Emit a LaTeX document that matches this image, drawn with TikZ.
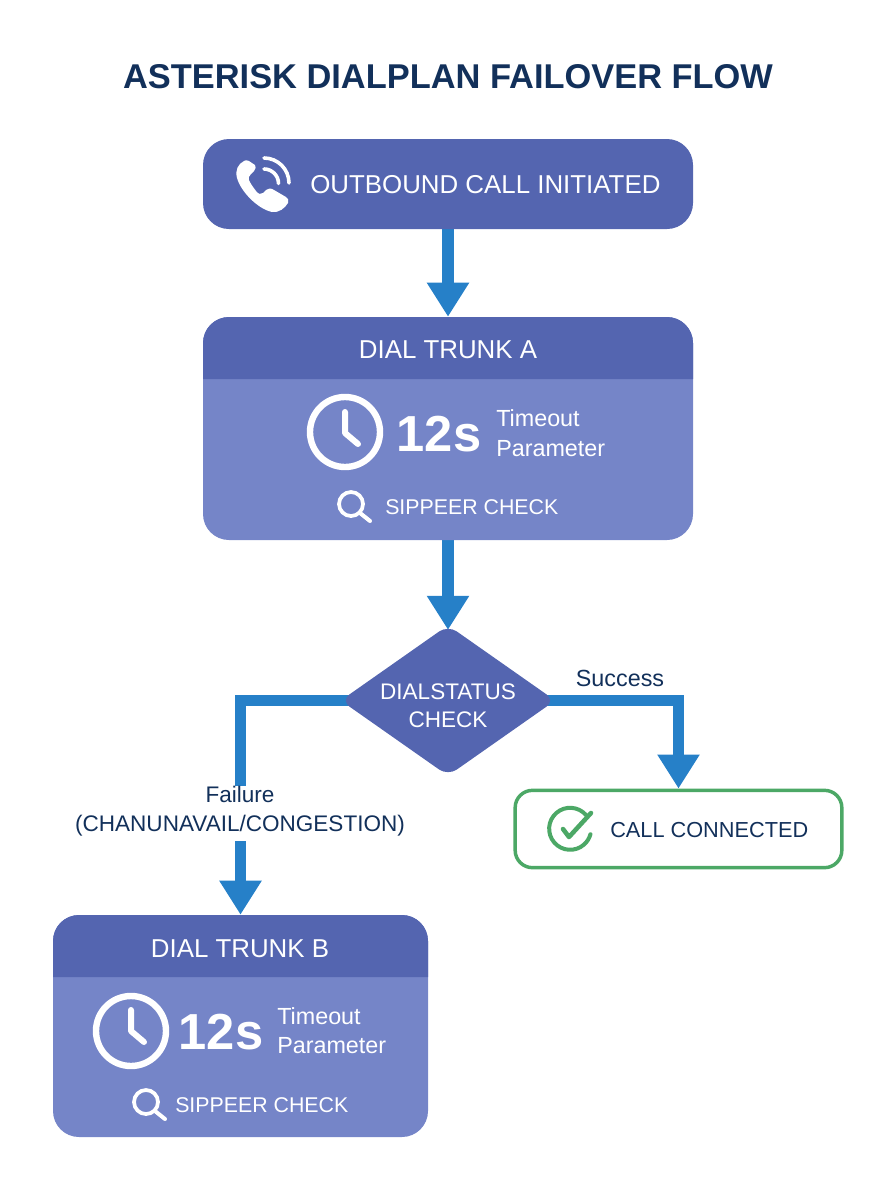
\documentclass[tikz,border=0pt]{standalone}
\usepackage{fontspec}
\setmainfont{Liberation Sans}
\usetikzlibrary{arrows.meta,shapes.geometric,backgrounds}
\definecolor{hdr}{HTML}{5465B0}
\definecolor{bodyc}{HTML}{7585C8}
\definecolor{flowc}{HTML}{2680C8}
\definecolor{navy}{HTML}{12305A}
\definecolor{okgreen}{HTML}{4CA866}
\newcommand\fsz[1]{\fontsize{#1}{#1}\selectfont}
\tikzset{
  x=0.75pt,y=-0.75pt,
  flow/.style={draw=flowc,line width=8.8pt,-{Triangle[width=30pt,length=25.5pt]}},
  wt/.style={text=white,inner sep=0pt,font=\fsz{17.5}},
  hd/.style={text=white,inner sep=0pt,font=\fsz{19.4}},
  sm/.style={text=white,inner sep=0pt,font=\fsz{16}},
  dt/.style={text=white,inner sep=0pt,font=\fsz{16.9}},
  big/.style={text=white,inner sep=0pt,font=\bfseries\fsz{38}},
  nv/.style={text=navy,inner sep=0pt,font=\fsz{16.3}},
  trunkbody/.style={fill=bodyc,rounded corners=19.5pt,inner sep=0pt},
  icon/.style={draw=white,line cap=round,line join=round},
}
\begin{document}
\begin{tikzpicture}
\useasboundingbox (0,0) rectangle (896,1200);
\node[inner sep=0pt,text=navy,font=\bfseries\fsz{25.8}] (title) at (448,77) {ASTERISK DIALPLAN FAILOVER FLOW};

% start
\node[fill=hdr,rounded corners=19.5pt,minimum width=367.5pt,minimum height=67.5pt,inner sep=0pt] (start) at (448,184) {};
\node[hd,anchor=west] (starttext) at (310,185) {OUTBOUND CALL INITIATED};
\fill[white] (244,161) .. controls (238,164) and (235,170) .. (237,178) .. controls (241,192) and (258,209) .. (272,212) .. controls (279,213) and (285,208) .. (288,203) .. controls (289,200) and (288,198) .. (286,197) -- (274,190) .. controls (271,188) and (268,188) .. (266,190) -- (263,193) .. controls (261,195) and (258,194) .. (256,191) .. controls (253,187) and (250,183) .. (249,180) .. controls (248,178) and (249,176) .. (251,174) -- (254,171) .. controls (256,169) and (256,167) .. (255,165) -- (249,161) .. controls (247,160) and (245,160) .. (244,161) -- cycle;
\draw[icon,line width=2.7pt] (264,158) arc[start angle=-90,end angle=0,radius=25];
\draw[icon,line width=2.7pt] (264,169) arc[start angle=-90,end angle=0,radius=14.5];

% trunk A
\node[trunkbody,minimum width=367.5pt,minimum height=167.25pt] (ta) at (448,428.5) {};
\fill[hdr] (203,379) [rounded corners=19.5pt] -- (203,317) -- (693,317) [sharp corners] -- (693,379) -- cycle;
\node[hd] (tatitle) at (448,350) {DIAL TRUNK A};
\draw[icon,line width=4.8pt] (345,432) circle[radius=35];
\draw[icon,line width=4.5pt] (345,412) -- (345,433) -- (358,444);
\node[big] (tas) at (439,434) {12s};
\node[wt,anchor=west] (tat) at (496,418.5) {Timeout};
\node[wt,anchor=west] (tap) at (496,449) {Parameter};
\draw[icon,line width=2.8pt] (351,504) circle[radius=12];
\draw[icon,line width=3pt] (360,513) -- (370,521);
\node[sm,anchor=west] (tac) at (385,507) {SIPPEER CHECK};

% diamond
\node[shape=diamond,fill=hdr,rounded corners=8pt,inner sep=0pt,minimum width=161pt,minimum height=113pt] (dia) at (448,700.5) {};
\node[dt] (dia1) at (448,692) {DIALSTATUS};
\node[dt] (dia2) at (448,720) {CHECK};

% connected
\node[draw=okgreen,line width=2.6pt,fill=white,rounded corners=13pt,minimum width=245pt,minimum height=58pt,inner sep=0pt] (ok) at (678.5,829) {};
\node[nv,anchor=west] (oktext) at (610,830) {CALL CONNECTED};
\draw[okgreen,line width=3pt,line cap=round] (586,815) arc[start angle=-41,end angle=-345,radius=21];
\draw[okgreen,line width=3.4pt,line cap=round,line join=round] (563,829) -- (569,837) -- (591,813);

% trunk B
\node[trunkbody,minimum width=281.25pt,minimum height=166.5pt] (tb) at (240.5,1026) {};
\fill[hdr] (53,977) [rounded corners=19.5pt] -- (53,915) -- (428,915) [sharp corners] -- (428,977) -- cycle;
\node[hd] (tbtitle) at (240,949) {DIAL TRUNK B};
\draw[icon,line width=4.8pt] (131,1031) circle[radius=35];
\draw[icon,line width=4.5pt] (131,1010) -- (131,1031) -- (144,1042);
\node[big] (tbs) at (221,1032) {12s};
\node[wt,anchor=west] (tbt) at (277,1016.5) {Timeout};
\node[wt,anchor=west] (tbp) at (277,1046) {Parameter};
\draw[icon,line width=2.8pt] (146,1102) circle[radius=12];
\draw[icon,line width=3pt] (155,1111) -- (165,1119);
\node[sm,anchor=west] (tbc) at (175,1105) {SIPPEER CHECK};

% labels
\node[text=navy,inner sep=0pt,font=\fsz{17.5}] (succ) at (620,678) {Success};

\begin{scope}[on background layer]
\draw[flow] (start.south) -- (ta.north);
\draw[flow,shorten >=-3.75pt] (ta.south) -- (dia.north);
\draw[flow] (dia.center) -| (ok.north);
\draw[flow] (dia.center) -| (tb.north);
\end{scope}
\node[fill=white,inner sep=0pt,anchor=north,align=center,text=navy,font=\fsz{16.9}] (fail) at (240,786) {Failure\\[4.9pt](CHANUNAVAIL/CONGESTION)\rule[-7pt]{0pt}{0pt}};
\end{tikzpicture}
\end{document}
